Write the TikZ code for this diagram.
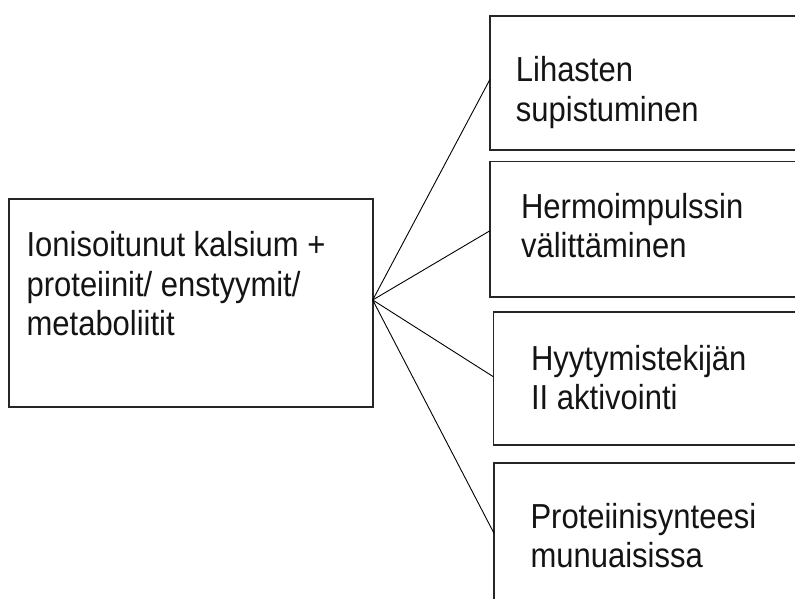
\documentclass[tikz,border=0pt]{standalone}
\usepackage{fontspec}
\setmainfont{Liberation Sans}
\usepackage{graphicx}
\newcommand{\boxtext}[1]{\scalebox{1}[1.12]{\fontsize{31}{35.2}\selectfont\begin{tabular}[t]{@{}l@{}}#1\end{tabular}}}
\tikzset{
  framebox/.style={draw=black!85, line width=1.6pt, inner sep=0pt},
  boxlabel/.style={anchor=base west, inner sep=0pt, text=black!92},
  link/.style={draw=black, line width=0.9pt}
}
\begin{document}
\begin{tikzpicture}[x=1pt,y=1pt]
\useasboundingbox (0,0) rectangle (795,598);
\clip (0,0) rectangle (795,598);
\fill[white] (0,0) rectangle (795,598);
% boxes (image y converted: y = 598 - y_img)
\node[framebox, minimum width=363.7pt, minimum height=207.4pt] (L) at (190.85,295.0) {};
\node[framebox, minimum width=320pt, minimum height=134pt] (B1) at (650,515.0) {};
\node[framebox, minimum width=320pt, minimum height=135pt] (B2) at (650,368.8) {};
\node[framebox, minimum width=316.7pt, minimum height=133.3pt] (B3) at (651.65,219.65) {};
\node[framebox, minimum width=316pt, minimum height=152.3pt] (B4) at (652,59.15) {};
% texts
\node[boxlabel] (tL) at (26.4,341.3) {\boxtext{Ionisoitunut kalsium +\\proteiinit/ enstyymit/\\metaboliitit}};
\node[boxlabel] (t1) at (515.7,516.3) {\boxtext{Lihasten\\supistuminen}};
\node[boxlabel] (t2) at (520.9,379.7) {\boxtext{Hermoimpulssin\\välittäminen}};
\node[boxlabel] (t3) at (530.9,228.0) {\boxtext{Hyytymistekijän\\II aktivointi}};
\node[boxlabel] (t4) at (530.3,69.7) {\boxtext{Proteiinisynteesi\\munuaisissa}};
% connector ends
\coordinate (hub) at (372.7,298.0);
\coordinate (e1) at (490.0,518.7);
\coordinate (e2) at (490.0,367.3);
\coordinate (e3) at (493.3,221.3);
\coordinate (e4) at (494.0,64.7);
\draw[link] (hub) -- (e1);
\draw[link] (hub) -- (e2);
\draw[link] (hub) -- (e3);
\draw[link] (hub) -- (e4);
\end{tikzpicture}
\end{document}
